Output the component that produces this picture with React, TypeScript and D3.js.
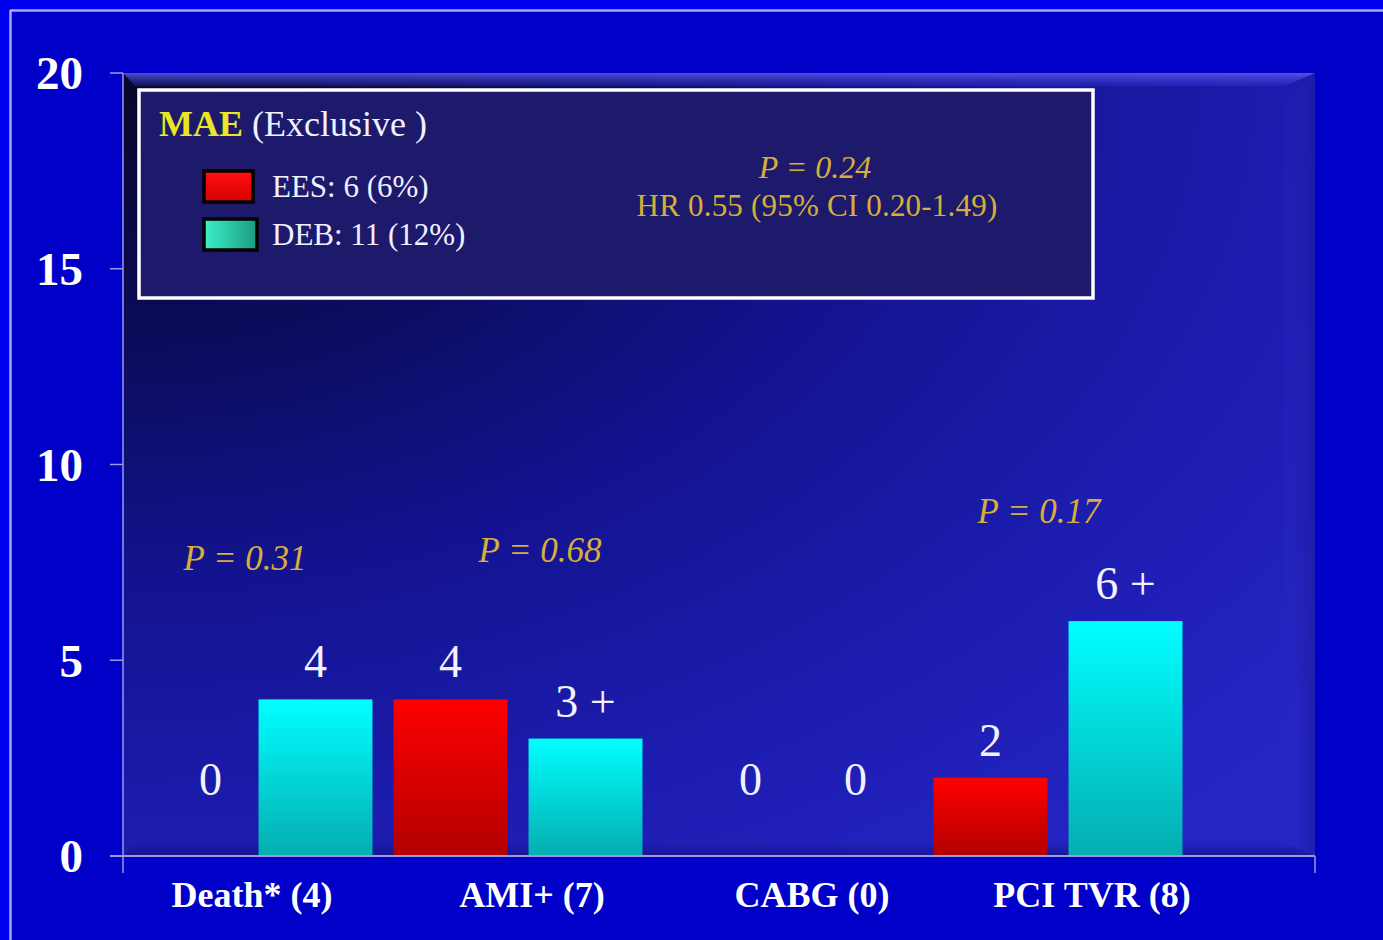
import React from "react";
import * as d3 from "d3";

// Major adverse events by component, exclusive counts
const categories = ["Death* (4)", "AMI+ (7)", "CABG (0)", "PCI TVR (8)"];
const series = ["EES", "DEB"];
const eesValues = [0, 4, 0, 2];
const debValues = [4, 3, 0, 6];
const eesLabels = ["0", "4", "0", "2"];
const debLabels = ["4", "3 +", "0", "6 +"];
const yTicks = [0, 5, 10, 15, 20];
const legendItems = ["EES: 6 (6%)", "DEB: 11 (12%)"];
const pValueCats = ["Death* (4)", "AMI+ (7)", "PCI TVR (8)"];
const pValueTexts = ["P = 0.31", "P = 0.68", "P = 0.17"];
const pValueLevels = [7.3, 7.5, 8.5];
const overallP = "P = 0.24";
const overallHR = "HR 0.55 (95% CI 0.20-1.49)";

const W = 1383;
const H = 940;
const plot = { left: 123, right: 1315, top: 73, bottom: 856 };
const serif = "'Liberation Serif', 'Times New Roman', serif";
const gold = "#D6AE3A";

export default function App() {
  const y = d3.scaleLinear().domain([0, 20]).range([plot.bottom, plot.top]);
  const x0 = d3.scaleBand<string>().domain(categories).range([113, 1193]);
  const x1 = d3
    .scaleBand<string>()
    .domain(series)
    .range([0, x0.bandwidth()])
    .paddingInner(0.156)
    .paddingOuter(0.078);
  const xLabel = d3.scalePoint<string>().domain(categories).range([252, 1092]);

  const bars = categories.flatMap((c, i) => [
    { cat: c, s: "EES", v: eesValues[i], label: eesLabels[i] },
    { cat: c, s: "DEB", v: debValues[i], label: debLabels[i] },
  ]);

  const pw = plot.right - plot.left;
  const ph = plot.bottom - plot.top;

  return (
    <svg
      width={W}
      height={H}
      style={{ position: "absolute", left: 0, top: 0, display: "block" }}
    >
      <defs>
        <radialGradient id="panel" cx="0" cy="0" r="1.3" gradientUnits="objectBoundingBox">
          <stop offset="0" stopColor="#07072a" />
          <stop offset="0.25" stopColor="#0b0b58" />
          <stop offset="0.5" stopColor="#131390" />
          <stop offset="0.78" stopColor="#1d1db2" />
          <stop offset="1" stopColor="#2525c4" />
        </radialGradient>
        <linearGradient id="bevelTop" x1="0" y1="0" x2="0" y2="1">
          <stop offset="0" stopColor="#5a5af0" stopOpacity="0.85" />
          <stop offset="1" stopColor="#3a3ad8" stopOpacity="0.25" />
        </linearGradient>
        <linearGradient id="bevelRight" x1="0" y1="0" x2="1" y2="0">
          <stop offset="0" stopColor="#2a2ac8" stopOpacity="0.2" />
          <stop offset="1" stopColor="#1a1aa0" stopOpacity="0.6" />
        </linearGradient>
        <linearGradient id="bevelBottom" x1="0" y1="0" x2="0" y2="1">
          <stop offset="0" stopColor="#10107a" stopOpacity="0" />
          <stop offset="1" stopColor="#10107a" stopOpacity="0.6" />
        </linearGradient>
        <linearGradient id="cyanBar" x1="0" y1="0" x2="0" y2="1">
          <stop offset="0" stopColor="#00ffff" />
          <stop offset="1" stopColor="#05adb0" />
        </linearGradient>
        <linearGradient id="redBar" x1="0" y1="0" x2="0" y2="1">
          <stop offset="0" stopColor="#ff0000" />
          <stop offset="1" stopColor="#b20000" />
        </linearGradient>
        <linearGradient id="tealSwatch" x1="0" y1="0" x2="1" y2="0">
          <stop offset="0" stopColor="#3cf0c8" />
          <stop offset="1" stopColor="#1c9a84" />
        </linearGradient>
        <linearGradient id="redSwatch" x1="0" y1="0" x2="0" y2="1">
          <stop offset="0" stopColor="#ff1010" />
          <stop offset="1" stopColor="#d80000" />
        </linearGradient>
      </defs>

      {/* slide background and frame */}
      <rect x={0} y={0} width={W} height={H} fill="#0000f0" />
      <rect x={10} y={10} width={W - 10} height={H - 10} fill="#0000c8" />
      <line x1={10} y1={10.5} x2={W} y2={10.5} stroke="#a8a8f4" strokeWidth={2.5} />
      <line x1={10.5} y1={10} x2={10.5} y2={H} stroke="#a8a8f4" strokeWidth={2.5} />

      {/* plot panel with bevelled edges */}
      <rect x={plot.left} y={plot.top} width={pw} height={ph} fill="url(#panel)" />
      <polygon
        points={`${plot.left},${plot.top} ${plot.right},${plot.top} ${plot.right - 30},${plot.top + 13} ${plot.left + 12},${plot.top + 13}`}
        fill="url(#bevelTop)"
      />
      <polygon
        points={`${plot.right},${plot.top} ${plot.right},${plot.bottom} ${plot.right - 30},${plot.bottom - 14} ${plot.right - 30},${plot.top + 30}`}
        fill="url(#bevelRight)"
      />
      <polygon
        points={`${plot.left},${plot.bottom} ${plot.right},${plot.bottom} ${plot.right - 30},${plot.bottom - 14} ${plot.left + 12},${plot.bottom - 14}`}
        fill="url(#bevelBottom)"
      />

      {/* bars */}
      {bars.map((b, i) => {
        const bx = (x0(b.cat) ?? 0) + (x1(b.s) ?? 0);
        const top = y(b.v);
        return b.v > 0 ? (
          <rect
            key={`bar-${i}`}
            x={bx}
            y={top}
            width={x1.bandwidth()}
            height={y(0) - top}
            fill={b.s === "EES" ? "url(#redBar)" : "url(#cyanBar)"}
          />
        ) : null;
      })}

      {/* value labels */}
      {bars.map((b, i) => {
        const cx = (x0(b.cat) ?? 0) + (x1(b.s) ?? 0) + x1.bandwidth() / 2;
        const zero = b.v === 0;
        return (
          <text
            key={`val-${i}`}
            x={zero && b.s === "EES" ? cx + 30 : cx}
            y={zero ? y(0) - 61 : y(b.v) - 22}
            textAnchor="middle"
            fontFamily={serif}
            fontSize={46}
            fill="#f2f2ff"
          >
            {b.label}
          </text>
        );
      })}

      {/* axes */}
      <line x1={plot.left} y1={plot.top} x2={plot.left} y2={plot.bottom + 17} stroke="#9a9ae6" strokeWidth={1.5} />
      <line x1={110} y1={plot.bottom} x2={plot.right} y2={plot.bottom} stroke="#9a9ae6" strokeWidth={1.8} />
      <line x1={plot.right} y1={plot.bottom} x2={plot.right} y2={plot.bottom + 17} stroke="#9a9ae6" strokeWidth={1.5} />
      {yTicks.map((t) => (
        <g key={`yt-${t}`}>
          <line x1={110} y1={y(t)} x2={plot.left} y2={y(t)} stroke="#9a9ae6" strokeWidth={1.5} />
          <text
            x={83}
            y={y(t)}
            dy="0.35em"
            textAnchor="end"
            fontFamily={serif}
            fontWeight="bold"
            fontSize={47}
            fill="#ffffff"
          >
            {t}
          </text>
        </g>
      ))}
      {categories.map((c) => (
        <text
          key={`xl-${c}`}
          x={xLabel(c)}
          y={907}
          textAnchor="middle"
          fontFamily={serif}
          fontWeight="bold"
          fontSize={36}
          fill="#ffffff"
        >
          {c}
        </text>
      ))}

      {/* per-component p values */}
      {pValueCats.map((c, i) => (
        <text
          key={`p-${i}`}
          x={xLabel(c)! + (i === 0 ? -7 : i === 1 ? 8 : -53)}
          y={y(pValueLevels[i])}
          textAnchor="middle"
          fontFamily={serif}
          fontStyle="italic"
          fontSize={35}
          fill={gold}
        >
          {pValueTexts[i]}
        </text>
      ))}

      {/* legend box */}
      <rect x={139} y={90} width={954} height={208} fill="#1d1a6c" stroke="#ffffff" strokeWidth={3.5} />
      <text x={159} y={136} fontFamily={serif} fontSize={36} fill="#f0f0ff">
        <tspan fontWeight="bold" fill="#e8e626">MAE</tspan>
        <tspan> (Exclusive )</tspan>
      </text>
      {legendItems.map((t, i) => (
        <g key={`lg-${i}`}>
          <rect
            x={204}
            y={171 + i * 48}
            width={i === 0 ? 49 : 53}
            height={31}
            fill={i === 0 ? "url(#redSwatch)" : "url(#tealSwatch)"}
            stroke="#000000"
            strokeWidth={3.5}
          />
          <text x={272} y={197 + i * 48} fontFamily={serif} fontSize={31} fill="#f0f0ff">
            {t}
          </text>
        </g>
      ))}
      <text x={815} y={178} textAnchor="middle" fontFamily={serif} fontStyle="italic" fontSize={32} fill={gold}>
        {overallP}
      </text>
      <text x={817} y={216} textAnchor="middle" fontFamily={serif} fontSize={31} letterSpacing={0.2} fill={gold}>
        {overallHR}
      </text>
    </svg>
  );
}
